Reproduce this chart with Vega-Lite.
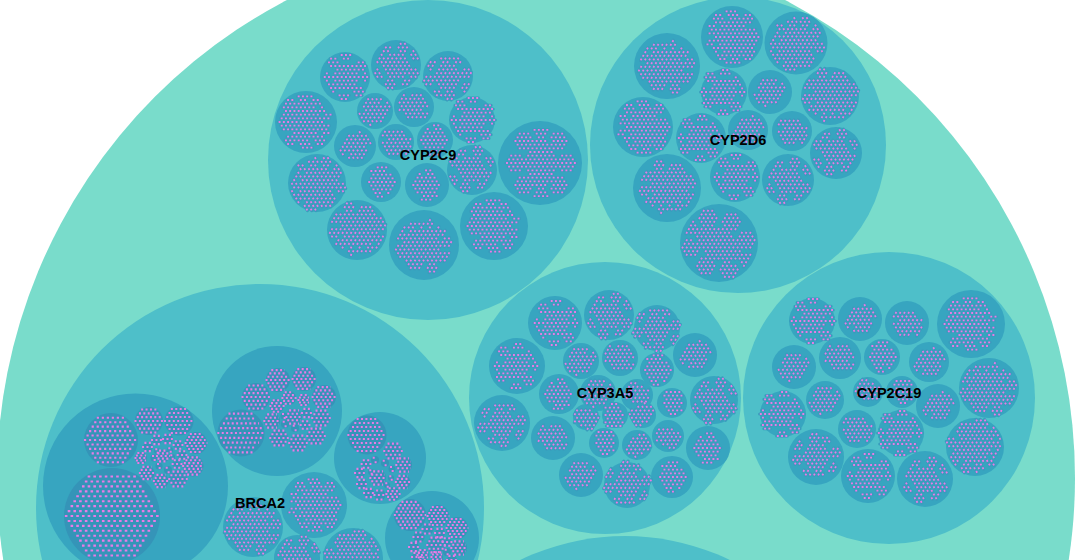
{
"$schema":"https://vega.github.io/schema/vega-lite/v6.json",
"width":1081,"height":560,"autosize":"none","padding":0,"background":"#ffffff",
"view":{"stroke":null},
"datasets":{
"nodes":[
{"x":536,"y":478,"r":539,"level":0},
{"x":428,"y":160,"r":160,"level":1,"name":"CYP2C9"},
{"x":738,"y":145,"r":148,"level":1,"name":"CYP2D6"},
{"x":605,"y":398,"r":136,"level":1,"name":"CYP3A5"},
{"x":889,"y":398,"r":146,"level":1,"name":"CYP2C19"},
{"x":260,"y":508,"r":224,"level":1,"name":"BRCA2"},
{"x":625,"y":777,"r":241,"level":1},
{"x":135.5,"y":486,"r":92.5,"level":2},
{"x":277,"y":411,"r":65,"level":2},
{"x":380,"y":458,"r":46,"level":2},
{"x":432,"y":538,"r":47,"level":2},
{"x":314,"y":505,"r":33,"level":2,"c":"L","v":0},
{"x":253,"y":527,"r":30,"level":2,"c":"L","v":2},
{"x":297,"y":558,"r":23,"level":2,"c":"M","v":1},
{"x":353,"y":558,"r":30,"level":2,"c":"L","v":4},
{"x":345,"y":77,"r":25,"level":2,"c":"M","v":0},
{"x":396,"y":65,"r":25,"level":2,"c":"M","v":1},
{"x":448,"y":76,"r":25,"level":2,"c":"M","v":2},
{"x":306,"y":122,"r":31,"level":2,"c":"L","v":3},
{"x":375,"y":111,"r":18,"level":2,"c":"S","v":4},
{"x":414,"y":107,"r":20,"level":2,"c":"S","v":5},
{"x":472,"y":120,"r":23,"level":2,"c":"M","v":0},
{"x":355,"y":146,"r":21,"level":2,"c":"S","v":1},
{"x":396,"y":142,"r":18,"level":2,"c":"S","v":2},
{"x":435,"y":140,"r":18,"level":2,"c":"S","v":3},
{"x":472,"y":170,"r":25,"level":2,"c":"M","v":4},
{"x":540,"y":163,"r":42,"level":2,"c":"XL","v":0},
{"x":317,"y":183,"r":29,"level":2,"c":"L","v":1},
{"x":381,"y":182,"r":20,"level":2,"c":"S","v":0},
{"x":427,"y":185,"r":22,"level":2,"c":"S","v":3},
{"x":357,"y":230,"r":30,"level":2,"c":"L","v":5},
{"x":424,"y":245,"r":35,"level":2,"c":"L","v":2},
{"x":494,"y":226,"r":34,"level":2,"c":"L","v":3},
{"x":732,"y":37,"r":31,"level":2,"c":"L","v":0},
{"x":796,"y":43,"r":31.5,"level":2,"c":"L","v":1},
{"x":667,"y":66,"r":33,"level":2,"c":"L","v":2},
{"x":724,"y":92,"r":23,"level":2,"c":"M","v":3},
{"x":770,"y":92,"r":22,"level":2,"c":"S","v":4},
{"x":830,"y":96,"r":29,"level":2,"c":"L","v":5},
{"x":643,"y":127,"r":30,"level":2,"c":"L","v":0},
{"x":748,"y":130,"r":20,"level":2,"c":"S","v":1},
{"x":792,"y":131,"r":20,"level":2,"c":"S","v":2},
{"x":701,"y":138,"r":25,"level":2,"c":"M","v":3},
{"x":836,"y":153,"r":26,"level":2,"c":"M","v":4},
{"x":667,"y":188,"r":34,"level":2,"c":"L","v":5},
{"x":735,"y":177,"r":25,"level":2,"c":"M","v":0},
{"x":788,"y":180,"r":26,"level":2,"c":"M","v":1},
{"x":719,"y":243,"r":39,"level":2,"c":"XL","v":2},
{"x":555,"y":323,"r":27,"level":2,"c":"M","v":0},
{"x":609,"y":315,"r":25,"level":2,"c":"M","v":1},
{"x":657,"y":328,"r":23,"level":2,"c":"M","v":2},
{"x":517,"y":366,"r":28,"level":2,"c":"M","v":3},
{"x":581,"y":361,"r":18,"level":2,"c":"S","v":4},
{"x":620,"y":358,"r":18,"level":2,"c":"S","v":5},
{"x":657,"y":370,"r":17,"level":2,"c":"S","v":0},
{"x":695,"y":355,"r":22,"level":2,"c":"S","v":1},
{"x":502,"y":423,"r":28,"level":2,"c":"M","v":2},
{"x":559,"y":394,"r":20,"level":2,"c":"S","v":3},
{"x":598,"y":393,"r":18,"level":2,"c":"S","v":4},
{"x":637,"y":395,"r":16,"level":2,"c":"XS","v":5},
{"x":672,"y":403,"r":15,"level":2,"c":"XS","v":0},
{"x":714,"y":400,"r":24,"level":2,"c":"M","v":1},
{"x":586,"y":417,"r":13,"level":2,"c":"XS","v":2},
{"x":615,"y":415,"r":13,"level":2,"c":"XS","v":3},
{"x":643,"y":415,"r":13,"level":2,"c":"XS","v":4},
{"x":553,"y":438,"r":22,"level":2,"c":"S","v":5},
{"x":604,"y":443,"r":15,"level":2,"c":"XS","v":0},
{"x":637,"y":445,"r":15,"level":2,"c":"XS","v":1},
{"x":668,"y":436,"r":16,"level":2,"c":"XS","v":2},
{"x":708,"y":448,"r":22,"level":2,"c":"S","v":3},
{"x":581,"y":475,"r":22,"level":2,"c":"S","v":4},
{"x":627,"y":485,"r":23,"level":2,"c":"M","v":5},
{"x":672,"y":477,"r":21,"level":2,"c":"S","v":0},
{"x":812,"y":321,"r":23,"level":2,"c":"M","v":0},
{"x":860,"y":319,"r":22,"level":2,"c":"S","v":1},
{"x":907,"y":323,"r":22,"level":2,"c":"S","v":2},
{"x":971,"y":324,"r":34,"level":2,"c":"L","v":3},
{"x":794,"y":367,"r":22,"level":2,"c":"S","v":4},
{"x":840,"y":358,"r":21,"level":2,"c":"S","v":5},
{"x":882,"y":357,"r":18,"level":2,"c":"S","v":0},
{"x":929,"y":362,"r":20,"level":2,"c":"S","v":1},
{"x":989,"y":388,"r":30,"level":2,"c":"L","v":2},
{"x":783,"y":414,"r":23,"level":2,"c":"M","v":3},
{"x":825,"y":400,"r":19,"level":2,"c":"S","v":4},
{"x":868,"y":392,"r":15,"level":2,"c":"XS","v":5},
{"x":902,"y":392,"r":16,"level":2,"c":"XS","v":0},
{"x":938,"y":406,"r":22,"level":2,"c":"S","v":1},
{"x":857,"y":429,"r":19,"level":2,"c":"S","v":2},
{"x":901,"y":433,"r":23,"level":2,"c":"M","v":3},
{"x":975,"y":447,"r":29,"level":2,"c":"L","v":4},
{"x":816,"y":457,"r":28,"level":2,"c":"M","v":5},
{"x":868,"y":476,"r":27,"level":2,"c":"M","v":0},
{"x":925,"y":479,"r":28,"level":2,"c":"M","v":1}
],
"leaves":[
{"x":112,"y":516,"r":48,"ring":8},
{"x":111,"y":440,"r":27,"ring":5},
{"x":149,"y":421,"r":14,"ring":3},
{"x":179,"y":421,"r":14.5,"ring":3},
{"x":196,"y":443,"r":11,"ring":3},
{"x":193,"y":466,"r":10.5,"ring":3},
{"x":178,"y":479,"r":9,"ring":2},
{"x":161,"y":481,"r":7.5,"ring":2},
{"x":147,"y":473,"r":7.5,"ring":2},
{"x":141,"y":458,"r":6,"ring":2},
{"x":157,"y":440,"r":5,"ring":1},
{"x":168,"y":439,"r":5,"ring":1},
{"x":178,"y":445,"r":4.5,"ring":1},
{"x":148,"y":447,"r":5,"ring":1},
{"x":163,"y":456,"r":6.5,"ring":2},
{"x":182,"y":455,"r":4.5,"ring":1},
{"x":177,"y":464,"r":4.5,"ring":1},
{"x":168,"y":470,"r":4,"ring":0},
{"x":159,"y":466,"r":3.5,"ring":0},
{"x":154,"y":458,"r":3.5,"ring":0},
{"x":172,"y":457,"r":3,"ring":0},
{"x":170,"y":450,"r":3,"ring":0},
{"x":157,"y":451,"r":3,"ring":0},
{"x":241,"y":433,"r":23.5,"ring":4},
{"x":256,"y":397,"r":14,"ring":3},
{"x":278,"y":380,"r":12,"ring":3},
{"x":304,"y":379,"r":12,"ring":3},
{"x":324,"y":397,"r":12,"ring":3},
{"x":277,"y":406,"r":7,"ring":2},
{"x":289,"y":398,"r":7,"ring":2},
{"x":304,"y":400,"r":6,"ring":2},
{"x":272,"y":421,"r":8,"ring":2},
{"x":294,"y":417,"r":8,"ring":2},
{"x":307,"y":413,"r":5,"ring":1},
{"x":321,"y":418,"r":9,"ring":2},
{"x":284,"y":416,"r":3.5,"ring":0},
{"x":285,"y":424,"r":4,"ring":0},
{"x":295,"y":428,"r":4,"ring":0},
{"x":305,"y":425,"r":4.5,"ring":1},
{"x":279,"y":438,"r":9,"ring":2},
{"x":298,"y":443,"r":9,"ring":2},
{"x":316,"y":436,"r":9,"ring":2},
{"x":367,"y":435,"r":19.5,"ring":4},
{"x":393,"y":451,"r":9,"ring":2},
{"x":404,"y":465,"r":8,"ring":2},
{"x":403,"y":482,"r":7.5,"ring":2},
{"x":393,"y":494,"r":7,"ring":2},
{"x":380,"y":495,"r":5.5,"ring":1},
{"x":369,"y":493,"r":5,"ring":1},
{"x":362,"y":484,"r":5,"ring":1},
{"x":360,"y":473,"r":5,"ring":1},
{"x":366,"y":464,"r":4.5,"ring":1},
{"x":375,"y":460,"r":4,"ring":0},
{"x":385,"y":463,"r":4,"ring":0},
{"x":392,"y":469,"r":3.5,"ring":0},
{"x":378,"y":478,"r":8,"ring":2},
{"x":371,"y":472,"r":3,"ring":0},
{"x":391,"y":478,"r":3,"ring":0},
{"x":387,"y":485,"r":3,"ring":0},
{"x":410,"y":515,"r":16,"ring":4},
{"x":438,"y":516,"r":11,"ring":3},
{"x":457,"y":528,"r":11,"ring":3},
{"x":459,"y":548,"r":8,"ring":2},
{"x":428,"y":529,"r":5.5,"ring":1},
{"x":440,"y":533,"r":5,"ring":1},
{"x":447,"y":542,"r":4.5,"ring":1},
{"x":419,"y":537,"r":5.5,"ring":1},
{"x":414,"y":547,"r":5,"ring":1},
{"x":436,"y":545,"r":9,"ring":2},
{"x":423,"y":555,"r":6,"ring":2},
{"x":437,"y":557,"r":6,"ring":2},
{"x":447,"y":552,"r":4,"ring":0},
{"x":417,"y":557,"r":5,"ring":1},
{"x":452,"y":560,"r":5,"ring":1}
]
},
"resolve":{"scale":{"size":"independent","shape":"independent","color":"independent","strokeDash":"independent","angle":"independent"}},
"encoding":{
"x":{"field":"x","type":"quantitative","axis":null,"scale":{"domain":[0,1081],"nice":false,"zero":false}},
"y":{"field":"y","type":"quantitative","axis":null,"scale":{"domain":[560,0],"nice":false,"zero":false}}
},
"layer":[
{"data":{"name":"nodes"},
"mark":{"type":"point","shape":"circle","filled":true,"opacity":1,"strokeWidth":0},
"encoding":{
"size":{"field":"r","type":"quantitative","legend":null,"scale":{"type":"pow","exponent":2,"domain":[0,600],"range":[0,1440000]}},
"color":{"field":"level","type":"ordinal","legend":null,"scale":{"domain":[0,1,2],"range":["#79dccb","#4ebfc9","#37a5c0"]}}
}},
{"data":{"name":"leaves"},
"mark":{"type":"point","shape":"circle","filled":true,"opacity":1,"strokeWidth":0,"color":"#3594b8"},
"encoding":{
"size":{"field":"r","type":"quantitative","legend":null,"scale":{"type":"pow","exponent":2,"domain":[0,100],"range":[0,40000]}}
}},
{"data":{"name":"nodes"},"transform":[{"filter":"datum.c"}],
"mark":{"type":"point","filled":false,"opacity":1,"size":18,"stroke":"#3a9cbc","strokeWidth":3.2,"strokeCap":"round"},
"encoding":{
"shape":{"field":"c","type":"nominal","legend":null,"scale":{"domain":["XS","S","M","L","XL"],"range":[
"M-3 -5.19H0 M1 -5.19H4 M-4 -3.46H5 M-3 -1.73H4 M-4 0H-1 M0 0H5 M-3 1.73H4 M-2 3.46H5 M-1 5.19H2",
"M-2 -6.92H3 M-5 -5.19H-2 M-1 -5.19H2 M-4 -3.46H5 M-5 -1.73H6 M-6 0H7 M-5 1.73H6 M-4 3.46H-1 M0 3.46H5 M-3 5.19H0 M3 5.19H4 M-2 6.92H1",
"M-2 -10.38H3 M-7 -8.65H-4 M-1 -8.65H2 M-8 -6.92H-3 M6 -6.92H9 M-7 -5.19H-4 M-3 -5.19H4 M5 -5.19H10 M-4 -3.46H5 M6 -3.46H9 M-9 -1.73H-8 M-5 -1.73H6 M9 -1.73H10 M-10 0H-7 M-6 0H7 M8 0H11 M-9 1.73H-8 M-5 1.73H6 M9 1.73H10 M-8 3.46H-5 M-4 3.46H5 M-7 5.19H-4 M-3 5.19H4 M5 5.19H8 M-6 6.92H-5 M4 6.92H9 M-3 8.65H2 M5 8.65H8 M-2 10.38H1",
"M-3 -12.11H2 M-8 -10.38H-5 M-2 -10.38H3 M6 -10.38H9 M-9 -8.65H-4 M-1 -8.65H4 M5 -8.65H10 M-8 -6.92H-5 M-4 -6.92H5 M6 -6.92H9 M-11 -5.19H-8 M-5 -5.19H6 M-10 -3.46H-7 M-6 -3.46H7 M8 -3.46H11 M-11 -1.73H-8 M-7 -1.73H8 M9 -1.73H12 M-8 0H9 M10 0H13 M-11 1.73H-8 M-7 1.73H8 M9 1.73H12 M-12 3.46H-9 M-6 3.46H7 M8 3.46H11 M-9 5.19H-6 M-5 5.19H6 M7 5.19H10 M-8 6.92H-7 M-4 6.92H5 M6 6.92H11 M-7 8.65H-2 M-1 8.65H4 M5 8.65H10 M-6 10.38H-3 M0 10.38H3 M6 10.38H9 M-3 12.11H4",
"M-3 -15.57H4 M-10 -13.84H-5 M-2 -13.84H3 M6 -13.84H11 M-11 -12.11H-4 M-1 -12.11H2 M5 -12.11H12 M-12 -10.38H-3 M-2 -10.38H3 M6 -10.38H13 M-11 -8.65H-4 M-3 -8.65H4 M5 -8.65H12 M-10 -6.92H-5 M-4 -6.92H5 M6 -6.92H11 M-5 -5.19H6 M-14 -3.46H-9 M-6 -3.46H7 M10 -3.46H15 M-15 -1.73H-8 M-7 -1.73H8 M9 -1.73H16 M-16 0H-7 M-6 0H7 M8 0H17 M-15 1.73H-8 M-7 1.73H8 M9 1.73H16 M-14 3.46H-9 M-6 3.46H7 M10 3.46H15 M-5 5.19H6 M-10 6.92H-5 M-4 6.92H5 M6 6.92H11 M-11 8.65H-4 M-3 8.65H4 M5 8.65H12 M-12 10.38H-3 M-2 10.38H3 M6 10.38H13 M-11 12.11H-4 M-1 12.11H2 M5 12.11H12 M-10 13.84H-5 M-2 13.84H3 M6 13.84H11 M-3 15.57H4"
]}},
"angle":{"field":"v","type":"quantitative","legend":null,"scale":{"domain":[0,6],"range":[0,360]}}
}},
{"data":{"name":"nodes"},"transform":[{"filter":"datum.c"}],
"mark":{"type":"point","filled":false,"opacity":1,"size":18,"stroke":"#e97be6","strokeWidth":1.8,"strokeDash":[1.9,2.34]},
"encoding":{
"shape":{"field":"c","type":"nominal","legend":null,"scale":{"domain":["XS","S","M","L","XL"],"range":[
"M-3 -5.19H0 M1 -5.19H4 M-4 -3.46H5 M-3 -1.73H4 M-4 0H-1 M0 0H5 M-3 1.73H4 M-2 3.46H5 M-1 5.19H2",
"M-2 -6.92H3 M-5 -5.19H-2 M-1 -5.19H2 M-4 -3.46H5 M-5 -1.73H6 M-6 0H7 M-5 1.73H6 M-4 3.46H-1 M0 3.46H5 M-3 5.19H0 M3 5.19H4 M-2 6.92H1",
"M-2 -10.38H3 M-7 -8.65H-4 M-1 -8.65H2 M-8 -6.92H-3 M6 -6.92H9 M-7 -5.19H-4 M-3 -5.19H4 M5 -5.19H10 M-4 -3.46H5 M6 -3.46H9 M-9 -1.73H-8 M-5 -1.73H6 M9 -1.73H10 M-10 0H-7 M-6 0H7 M8 0H11 M-9 1.73H-8 M-5 1.73H6 M9 1.73H10 M-8 3.46H-5 M-4 3.46H5 M-7 5.19H-4 M-3 5.19H4 M5 5.19H8 M-6 6.92H-5 M4 6.92H9 M-3 8.65H2 M5 8.65H8 M-2 10.38H1",
"M-3 -12.11H2 M-8 -10.38H-5 M-2 -10.38H3 M6 -10.38H9 M-9 -8.65H-4 M-1 -8.65H4 M5 -8.65H10 M-8 -6.92H-5 M-4 -6.92H5 M6 -6.92H9 M-11 -5.19H-8 M-5 -5.19H6 M-10 -3.46H-7 M-6 -3.46H7 M8 -3.46H11 M-11 -1.73H-8 M-7 -1.73H8 M9 -1.73H12 M-8 0H9 M10 0H13 M-11 1.73H-8 M-7 1.73H8 M9 1.73H12 M-12 3.46H-9 M-6 3.46H7 M8 3.46H11 M-9 5.19H-6 M-5 5.19H6 M7 5.19H10 M-8 6.92H-7 M-4 6.92H5 M6 6.92H11 M-7 8.65H-2 M-1 8.65H4 M5 8.65H10 M-6 10.38H-3 M0 10.38H3 M6 10.38H9 M-3 12.11H4",
"M-3 -15.57H4 M-10 -13.84H-5 M-2 -13.84H3 M6 -13.84H11 M-11 -12.11H-4 M-1 -12.11H2 M5 -12.11H12 M-12 -10.38H-3 M-2 -10.38H3 M6 -10.38H13 M-11 -8.65H-4 M-3 -8.65H4 M5 -8.65H12 M-10 -6.92H-5 M-4 -6.92H5 M6 -6.92H11 M-5 -5.19H6 M-14 -3.46H-9 M-6 -3.46H7 M10 -3.46H15 M-15 -1.73H-8 M-7 -1.73H8 M9 -1.73H16 M-16 0H-7 M-6 0H7 M8 0H17 M-15 1.73H-8 M-7 1.73H8 M9 1.73H16 M-14 3.46H-9 M-6 3.46H7 M10 3.46H15 M-5 5.19H6 M-10 6.92H-5 M-4 6.92H5 M6 6.92H11 M-11 8.65H-4 M-3 8.65H4 M5 8.65H12 M-12 10.38H-3 M-2 10.38H3 M6 10.38H13 M-11 12.11H-4 M-1 12.11H2 M5 12.11H12 M-10 13.84H-5 M-2 13.84H3 M6 13.84H11 M-3 15.57H4"
]}},
"angle":{"field":"v","type":"quantitative","legend":null,"scale":{"domain":[0,6],"range":[0,360]}}
}},
{"data":{"name":"leaves"},
"mark":{"type":"point","filled":false,"opacity":1,"stroke":"#e97be6","strokeWidth":2.1},
"encoding":{
"size":{"field":"r","type":"quantitative","legend":null,"scale":{"type":"pow","exponent":2,"domain":[0,100],"range":[0,36100]}},
"shape":{"field":"ring","type":"ordinal","legend":null,"scale":{"domain":[0,1,2,3,4,5,8],"range":[
"M-.6 -.6H.1 M-.1 .6H.6",
"M-1.25 0H1.25 M-.75 -.866H.75 M-.75 .866H.75",
"M-1.14 0H1.14 M-.89 -.433H.89 M-.89 .433H.89 M-.64 -.866H.64 M-.64 .866H.64",
"M-1.09 0H1.09 M-.923 -.289H.923 M-.923 .289H.923 M-.757 -.577H.757 M-.757 .577H.757 M-.59 -.866H.59 M-.59 .866H.59",
"M-1.06 0H1.06 M-.935 -.2165H.935 M-.935 .2165H.935 M-.81 -.433H.81 M-.81 .433H.81 M-.685 -.65H.685 M-.685 .65H.685 M-.56 -.866H.56 M-.56 .866H.56",
"M-1.055 0H1.055 M-.955 -.173H.955 M-.955 .173H.955 M-.855 -.346H.855 M-.855 .346H.855 M-.755 -.52H.755 M-.755 .52H.755 M-.655 -.693H.655 M-.655 .693H.655 M-.555 -.866H.555 M-.555 .866H.555",
"M-1.034 0H1.034 M-.971 -.108H.971 M-.971 .108H.971 M-.909 -.2165H.909 M-.909 .2165H.909 M-.846 -.325H.846 M-.846 .325H.846 M-.784 -.433H.784 M-.784 .433H.784 M-.721 -.541H.721 M-.721 .541H.721 M-.659 -.65H.659 M-.659 .65H.659 M-.596 -.758H.596 M-.596 .758H.596 M-.534 -.866H.534 M-.534 .866H.534"
]}},
"strokeDash":{"field":"ring","type":"ordinal","legend":null,"scale":{"domain":[0,1,2,3,4,5,8],"range":[[2,2.4],[2,2.4],[2,2.4],[2,2.4],[2,2.4],[2.2,2.8],[2.6,3.1]]}}
}},
{"data":{"name":"nodes"},"transform":[{"filter":"datum.name"}],
"mark":{"type":"text","font":"Liberation Sans","fontWeight":"bold","fontSize":14.5,"color":"#000000","align":"center","baseline":"middle","dy":-4},
"encoding":{"text":{"field":"name","type":"nominal"}}
}
]
}
